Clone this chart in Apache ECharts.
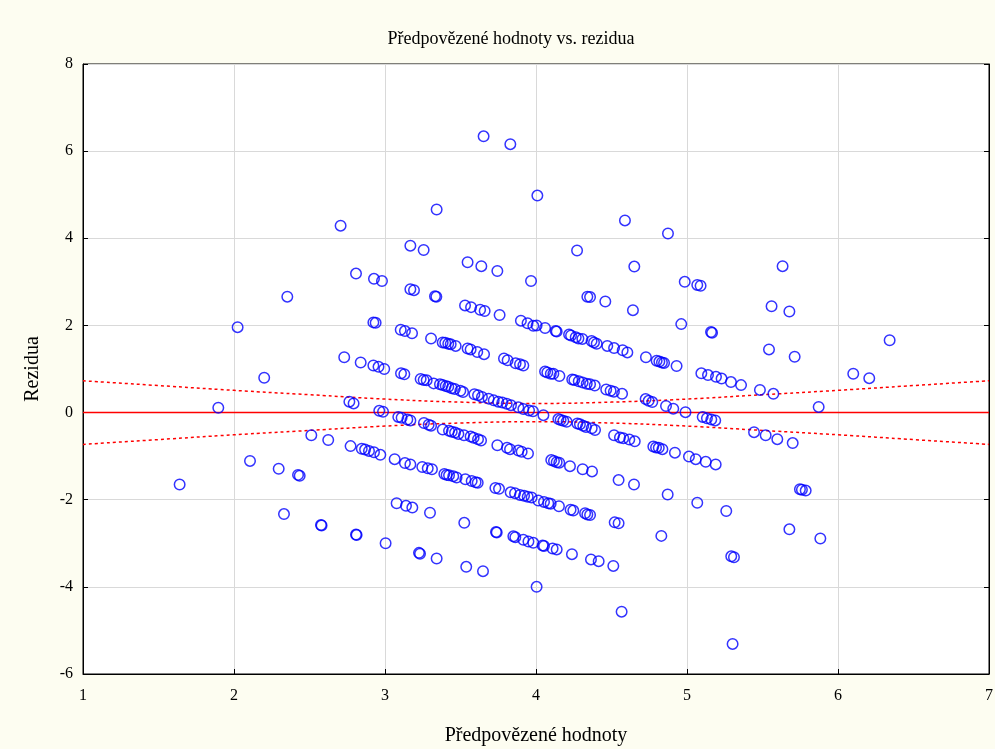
<!DOCTYPE html>
<html>
<head>
<meta charset="utf-8">
<script src="https://cdn.jsdelivr.net/npm/echarts@6/dist/echarts.min.js"></script>
<style>html,body{margin:0;padding:0;background:#fdfdf1;}#c{width:995px;height:749px;}</style>
</head>
<body>
<div id="c"></div>
<script>
// Predicted values (x) and residuals (y)
var predicted = [
3.653,3.830,4.009,4.589,4.874,5.633,3.342,4.272,4.651,4.985,5.068,5.090,5.560,5.678,6.342,
2.706,3.168,3.256,3.547,3.638,3.744,3.967,4.340,4.358,4.459,4.642,4.962,5.159,5.166,5.543,5.713,6.101,6.207,
2.808,2.927,2.980,3.168,3.192,3.331,3.340,3.530,3.570,3.630,3.660,3.759,3.900,3.944,3.982,4.004,4.060,4.130,4.137,4.219,4.232,4.263,4.281,4.307,4.368,4.384,4.402,4.472,4.517,4.574,4.605,4.728,4.799,4.817,4.834,4.848,4.931,5.095,5.139,5.192,5.229,5.291,5.358,5.483,5.572,5.872,
2.353,2.923,2.938,3.104,3.132,3.179,3.305,3.382,3.399,3.419,3.435,3.468,3.547,3.567,3.611,3.656,3.788,3.812,3.865,3.894,3.916,4.060,4.075,4.098,4.115,4.155,4.240,4.254,4.283,4.309,4.336,4.358,4.389,4.465,4.494,4.516,4.570,4.726,4.746,4.770,4.861,4.909,4.990,5.104,5.132,5.161,5.187,5.444,5.521,5.598,5.700,
2.024,2.730,2.839,2.923,2.957,2.995,3.106,3.128,3.236,3.256,3.276,3.322,3.364,3.382,3.402,3.419,3.442,3.462,3.499,3.517,3.592,3.616,3.642,3.686,3.720,3.750,3.777,3.806,3.834,3.883,3.916,3.954,3.980,4.049,4.148,4.163,4.181,4.203,4.274,4.291,4.313,4.331,4.369,4.391,4.517,4.556,4.578,4.618,4.654,4.777,4.795,4.813,4.837,4.920,5.013,5.058,5.124,5.190,5.748,5.761,5.786,
2.200,2.764,2.792,2.962,2.987,3.088,3.110,3.148,3.168,3.258,3.289,3.305,3.382,3.424,3.442,3.464,3.486,3.523,3.567,3.587,3.616,3.636,3.744,3.808,3.828,3.883,3.905,3.947,4.101,4.119,4.137,4.154,4.225,4.309,4.371,4.547,4.649,4.872,5.068,5.260,5.678,5.883,
1.896,2.512,2.624,2.772,2.846,2.868,2.894,2.927,2.969,3.064,3.132,3.168,3.247,3.283,3.311,3.393,3.408,3.424,3.452,3.474,3.532,3.574,3.600,3.614,3.731,3.755,3.832,3.861,3.894,3.921,3.945,3.971,4.015,4.053,4.081,4.097,4.152,4.229,4.247,4.325,4.340,4.358,4.521,4.547,4.830,5.293,5.311,
2.106,2.296,2.424,2.435,3.077,3.139,3.181,3.298,3.525,3.735,3.740,3.850,3.863,3.916,3.950,3.982,4.044,4.053,4.110,4.137,4.238,4.364,4.415,4.512,
1.640,2.331,2.576,2.580,2.808,2.812,3.004,3.225,3.232,3.342,3.538,3.649,4.004,4.567,5.302
];
var residuals = [
6.34,6.16,4.98,4.41,4.11,3.36,4.66,3.72,3.35,3.00,2.93,2.91,2.44,2.32,1.66,
4.29,3.83,3.73,3.45,3.36,3.25,3.02,2.66,2.65,2.55,2.35,2.03,1.85,1.83,1.45,1.28,0.89,0.79,
3.19,3.07,3.02,2.83,2.81,2.67,2.66,2.46,2.42,2.36,2.33,2.24,2.11,2.05,1.99,2.00,1.94,1.87,1.86,1.79,1.77,1.73,1.70,1.69,1.64,1.61,1.58,1.53,1.48,1.43,1.38,1.27,1.19,1.17,1.15,1.14,1.07,0.90,0.86,0.82,0.78,0.70,0.63,0.52,0.43,0.13,
2.66,2.07,2.06,1.90,1.87,1.82,1.70,1.61,1.60,1.58,1.57,1.53,1.47,1.45,1.39,1.34,1.24,1.20,1.13,1.11,1.08,0.94,0.92,0.89,0.89,0.84,0.76,0.75,0.72,0.69,0.66,0.65,0.62,0.53,0.50,0.48,0.43,0.31,0.27,0.24,0.15,0.09,0.01,-0.10,-0.13,-0.16,-0.18,-0.45,-0.52,-0.61,-0.70,
1.96,1.27,1.15,1.08,1.05,1.00,0.90,0.88,0.77,0.75,0.74,0.67,0.65,0.63,0.61,0.59,0.56,0.54,0.50,0.47,0.42,0.40,0.36,0.32,0.28,0.25,0.23,0.20,0.17,0.12,0.08,0.05,0.03,-0.06,-0.15,-0.17,-0.19,-0.21,-0.25,-0.27,-0.30,-0.33,-0.36,-0.40,-0.52,-0.57,-0.59,-0.62,-0.66,-0.78,-0.80,-0.81,-0.84,-0.92,-1.01,-1.07,-1.13,-1.19,-1.76,-1.77,-1.79,
0.80,0.25,0.21,0.04,0.02,-0.10,-0.12,-0.16,-0.18,-0.24,-0.28,-0.30,-0.39,-0.42,-0.44,-0.46,-0.49,-0.52,-0.55,-0.58,-0.61,-0.64,-0.75,-0.81,-0.84,-0.87,-0.90,-0.94,-1.09,-1.11,-1.14,-1.15,-1.23,-1.30,-1.35,-1.55,-1.65,-1.88,-2.07,-2.26,-2.68,-2.89,
0.11,-0.52,-0.63,-0.77,-0.83,-0.85,-0.88,-0.91,-0.97,-1.07,-1.16,-1.19,-1.25,-1.28,-1.30,-1.41,-1.43,-1.44,-1.46,-1.49,-1.53,-1.57,-1.60,-1.61,-1.73,-1.75,-1.83,-1.85,-1.89,-1.91,-1.93,-1.95,-2.02,-2.05,-2.08,-2.09,-2.15,-2.23,-2.25,-2.31,-2.34,-2.35,-2.52,-2.54,-2.83,-3.30,-3.32,
-1.11,-1.29,-1.43,-1.45,-2.08,-2.14,-2.18,-2.30,-2.53,-2.74,-2.75,-2.84,-2.86,-2.92,-2.96,-2.99,-3.05,-3.06,-3.12,-3.14,-3.25,-3.37,-3.41,-3.52,
-1.65,-2.33,-2.58,-2.59,-2.80,-2.81,-3.00,-3.22,-3.24,-3.35,-3.54,-3.64,-4.00,-4.57,-5.31
];
// Confidence band (dotted lines)
var bandX = [1, 1.5, 2, 2.5, 3, 3.5, 4, 4.5, 5, 5.5, 6, 6.5, 7];
var bandUpper = [0.73, 0.62, 0.51, 0.41, 0.31, 0.24, 0.21, 0.24, 0.31, 0.41, 0.51, 0.62, 0.73];
var bandLower = [-0.73, -0.62, -0.51, -0.41, -0.31, -0.24, -0.21, -0.24, -0.31, -0.41, -0.51, -0.62, -0.73];
var fitX = [1, 7];
var fitY = [0, 0];
var xTicks = [1, 2, 3, 4, 5, 6, 7];
var yTicks = [-6, -4, -2, 0, 2, 4, 6, 8];

var FONT = '"Liberation Serif", "Times New Roman", serif';
var pts = predicted.map(function(p, i){ return [p, residuals[i]]; });
function zip(a, b){ return a.map(function(v, i){ return [v, b[i]]; }); }

var chart = echarts.init(document.getElementById('c'), null, {renderer: 'canvas'});
chart.setOption({
  backgroundColor: '#fdfdf1',
  animation: false,
  title: {
    text: 'Předpovězené hodnoty vs. rezidua',
    left: 506, top: 25, textAlign: 'center',
    textStyle: {fontFamily: FONT, fontSize: 18, fontWeight: 'normal', color: '#000'}
  },
  grid: {left: 83, right: 6, top: 64, bottom: 75, outerBoundsMode: 'none', containLabel: false,
    show: true, backgroundColor: '#ffffff', borderColor: '#000', borderWidth: 1},
  xAxis: [{
    type: 'value', min: xTicks[0], max: xTicks[xTicks.length-1], interval: 1,
    name: 'Předpovězené hodnoty', nameLocation: 'middle', nameGap: 52,
    nameTextStyle: {fontFamily: FONT, fontSize: 20, color: '#000'},
    axisLine: {show: true, onZero: false, lineStyle: {color: '#000', width: 1}},
    axisTick: {show: true, inside: true, length: 5, lineStyle: {color: '#000'}},
    axisLabel: {fontFamily: FONT, fontSize: 16, color: '#000', margin: 14},
    splitLine: {show: true, lineStyle: {color: '#d9d9d9', width: 1}}
  }],
  yAxis: [{
    type: 'value', min: yTicks[0], max: yTicks[yTicks.length-1], interval: 2,
    name: 'Rezidua', nameLocation: 'middle', nameGap: 40,
    nameTextStyle: {fontFamily: FONT, fontSize: 20, color: '#000'},
    axisLine: {show: true, onZero: false, lineStyle: {color: '#000', width: 1}},
    axisTick: {show: true, inside: true, length: 5, lineStyle: {color: '#000'}},
    axisLabel: {fontFamily: FONT, fontSize: 16, color: '#000', margin: 10},
    splitLine: {show: true, lineStyle: {color: '#d9d9d9', width: 1}}
  }, {
    type: 'value', position: 'right', min: yTicks[0], max: yTicks[yTicks.length-1], interval: 2,
    axisLine: {show: true, onZero: false, lineStyle: {color: '#000', width: 1}},
    axisTick: {show: true, inside: true, length: 5, lineStyle: {color: '#000'}},
    axisLabel: {show: false}, splitLine: {show: false}
  }],
  series: [
    {type: 'line', data: zip(fitX, fitY), symbol: 'none', lineStyle: {color: '#ff0000', width: 1.5}, z: 2, silent: true},
    {type: 'line', data: zip(bandX, bandUpper), smooth: 0.5, symbol: 'none', lineStyle: {color: '#ff0000', width: 1.5, type: [3, 3]}, z: 2},
    {type: 'line', data: zip(bandX, bandLower), smooth: 0.5, symbol: 'none', lineStyle: {color: '#ff0000', width: 1.5, type: [3, 3]}, z: 2},
    {type: 'scatter', data: pts, symbol: 'circle', symbolSize: 10.5,
      itemStyle: {color: 'rgba(0,0,0,0)', borderColor: '#0000ff', borderWidth: 1.5}, z: 3}
  ]
});
</script>
</body>
</html>
